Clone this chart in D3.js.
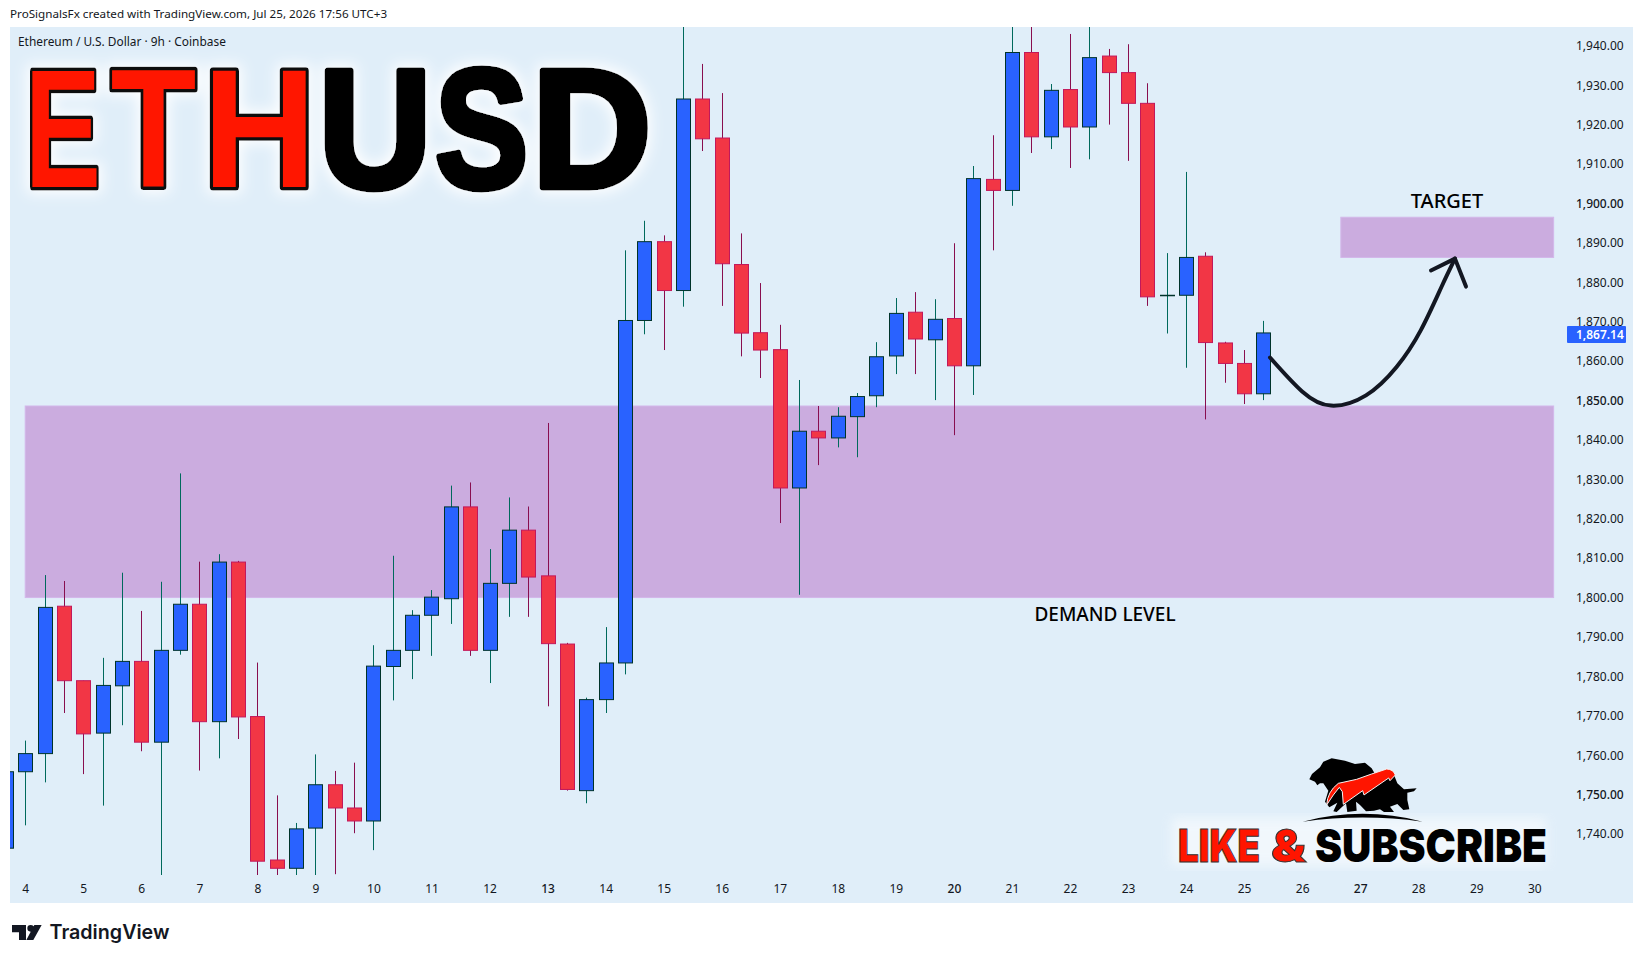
<!DOCTYPE html>
<meta charset="utf-8">
<style>
html, body { margin: 0; background: #fff; }
text { font-family: "Noto Sans", sans-serif; }
.axis text { font-size: 12px; fill: #131722; }
.axis .domain, .axis line { display: none; }
</style>
<svg width="1643" height="963"></svg>
<script src="https://d3js.org/d3.v7.min.js"></script>
<script>

// candles, one per 9h bar, starting on day 4 (3 bars a day)
var opens = [1755.8,1760.4,1797.8,1778.9,1765.6,1777.6,1783.8,1763.3,1786.6,1798.3,1768.5,1809,1769.8,1733.4,1731.3,1741.5,1752.5,1746.6,1743.3,1782.5,1786.6,1795.5,1799.7,1823,1786.6,1803.6,1817.1,1805.5,1788.2,1751,1774.1,1783.4,1870.3,1890.3,1877.9,1926.5,1916.6,1884.5,1867.2,1862.9,1827.8,1842.2,1840.5,1845.9,1851.2,1861.3,1872.4,1865.4,1870.8,1858.8,1906.1,1903.3,1938.3,1916.9,1928.9,1919.4,1937.4,1933.2,1925.4,1876.7,1876.7,1886.6,1864.6,1859.4,1851.7];
var highs = [1763.7,1805.7,1804.2,1778.9,1784.7,1806.3,1796.6,1804,1831.5,1809.1,1811,1809.3,1783.5,1749.8,1742.8,1760.2,1756,1758.1,1787.9,1810.6,1796.8,1801.9,1828.4,1829.2,1812.3,1825.4,1823.1,1844.3,1788.5,1774.6,1792.5,1888.1,1895.6,1891.9,1950,1935.4,1928,1892.4,1879.8,1869.2,1855.2,1848.6,1848.3,1851.9,1864.8,1876,1877.5,1875.7,1889.9,1909.5,1917.3,1950,1950,1930.3,1943,1950,1939.2,1940.4,1930.5,1887.4,1908,1887.6,1864.9,1862.8,1870.2];
var lows = [1742.2,1753.1,1770.7,1755.2,1747.2,1767.6,1761,1725,1785.5,1756.1,1759.2,1764.1,1725,1725,1725,1725,1729.8,1740.2,1735.9,1773.9,1779.3,1785.2,1793.3,1785.2,1778.3,1795.1,1795.1,1772.4,1751,1747.8,1770.7,1780.5,1866.8,1862.8,1873.8,1913.3,1874,1861.2,1855.7,1818.9,1800.7,1833.6,1838.1,1835.6,1848.3,1856.7,1856.7,1850.1,1841.2,1851.4,1888.1,1899.4,1912.8,1913.8,1909,1911.2,1920,1910.8,1874,1867,1858.3,1845.2,1854.5,1849.1,1850.1];
var closes = [1760.4,1797.5,1778.9,1765.4,1777.7,1783.8,1763.3,1786.6,1798.3,1768.5,1809,1769.7,1733.1,1731.3,1741.3,1752.5,1746.6,1743.3,1782.6,1786.6,1795.5,1800.1,1823,1786.6,1803.6,1817.1,1805.2,1788.3,1751.3,1774.1,1783.4,1870.3,1890.3,1877.9,1926.5,1916.4,1884.7,1867.1,1862.8,1827.8,1842.2,1840.5,1846,1851,1861.1,1872.1,1865.6,1870.6,1858.8,1906.3,1903.3,1938.3,1916.9,1928.7,1919.4,1937,1933.2,1925.4,1876.3,1876.7,1886.3,1864.7,1859.4,1851.7,1867.14];
// the cut-off candle at the left edge of the pane
var partialCandle = { open: 1736.4, high: 1736.4, low: 1736.4, close: 1755.8 };

var priceTicks = [1940,1930,1920,1910,1900,1890,1880,1870,1860,1850,1840,1830,1820,1810,1800,1790,1780,1770,1760,1750,1740];
var boldPrices = [1900,1850,1750];
var dayTicks = [4,5,6,7,8,9,10,11,12,13,14,15,16,17,18,19,20,21,22,23,24,25,26,27,28,29,30];
var boldDays = [13,20,27];
var lastPrice = 1867.14;

// zones in bar index / price
var demandZone = [0, 79, 1800, 1848.6];
var targetZone = [68, 79, 1886.3, 1896.5];

// hand drawn arrow, bar index / price
var arrowIdx = [64.34,66,67.5,69.3,70.88,72.13,73.2,73.9];
var arrowPrice = [1860.9,1852.3,1848.7,1851.3,1858.5,1867.8,1878.8,1886];
var headIdx = [72.66,73.9,74.47];
var headPrice = [1883,1886,1878.9];

// title letters, squeezed one by one
var titleLetters = ["E","T","H","U","S","D"];
var titleX = [24.7,110.5,202.6,318.5,434.9,531.9];
var titleLen = [76.2,85.9,113.8,113,93.1,119.3];

var svg = d3.select("svg");

var x = d3.scaleLinear().domain([0, 78]).range([25.2, 1534.3]);
var y = d3.scaleLinear().domain([1940, 1740]).range([45.8, 834]);

var defs = svg.append("defs");
defs.append("clipPath").attr("id", "pane").append("rect")
    .attr("x", 10).attr("y", 27).attr("width", 1623).attr("height", 848);
var glow = defs.append("filter").attr("id", "glow")
    .attr("x", "-15%").attr("y", "-25%").attr("width", "130%").attr("height", "150%");
glow.append("feMorphology").attr("in", "SourceAlpha").attr("operator", "dilate").attr("radius", 3).attr("result", "fat");
glow.append("feGaussianBlur").attr("in", "fat").attr("stdDeviation", 7).attr("result", "blur");
glow.append("feFlood").attr("flood-color", "#fff").attr("flood-opacity", 0.95);
glow.append("feComposite").attr("in2", "blur").attr("operator", "in").attr("result", "halo");
var merge = glow.append("feMerge");
merge.append("feMergeNode").attr("in", "halo");
merge.append("feMergeNode").attr("in", "SourceGraphic");
defs.append("filter").attr("id", "soft").append("feGaussianBlur").attr("stdDeviation", 6);

// background
svg.append("rect").attr("x", 10).attr("y", 27).attr("width", 1623).attr("height", 876).attr("fill", "#e0eef9");

svg.append("text").attr("x", 10).attr("y", 18).attr("font-size", 11.67).attr("fill", "#131722")
    .text("ProSignalsFx created with TradingView.com, Jul 25, 2026 17:56 UTC+3");
svg.append("text").attr("x", 18).attr("y", 46).attr("font-size", 11.9).attr("fill", "#131722")
    .text("Ethereum / U.S. Dollar · 9h · Coinbase");

// zones
svg.append("g").selectAll("rect").data([demandZone, targetZone]).enter().append("rect")
    .attr("x", function(d) { return x(d[0]); })
    .attr("y", function(d) { return y(d[3]); })
    .attr("width", function(d) { return x(d[1]) - x(d[0]); })
    .attr("height", function(d) { return y(d[2]) - y(d[3]); })
    .attr("fill", "#cbacdf")
    .attr("stroke", "#d3b7ea");

// candles
var candles = opens.map(function(o, i) {
  return { i: i, open: o, high: highs[i], low: lows[i], close: closes[i] };
});
partialCandle.i = -1;
candles.unshift(partialCandle);

var bw = 14;
var plot = svg.append("g").attr("clip-path", "url(#pane)");
var bars = plot.selectAll("g").data(candles).enter().append("g");
bars.append("line")
    .attr("x1", function(d) { return Math.round(x(d.i)) + 0.5; })
    .attr("x2", function(d) { return Math.round(x(d.i)) + 0.5; })
    .attr("y1", function(d) { return y(d.high); })
    .attr("y2", function(d) { return y(d.low); })
    .attr("stroke", function(d) { return d.close >= d.open ? "#00695c" : "#880e4f"; });
bars.append("rect")
    .attr("x", function(d) { return Math.round(x(d.i)) - bw / 2 + 0.5; })
    .attr("y", function(d) { return y(Math.max(d.open, d.close)); })
    .attr("width", bw)
    .attr("height", function(d) { return Math.max(0.5, Math.abs(y(d.open) - y(d.close))); })
    .attr("fill", function(d) { return d.close >= d.open ? "#2962ff" : "#f23645"; })
    .attr("stroke", function(d) { return d.close >= d.open ? "#00332a" : "#c2185b"; });

// axes
svg.append("g").attr("class", "axis")
    .attr("transform", "translate(1566,0)")
    .call(d3.axisRight(y).tickValues(priceTicks).tickSize(0).tickPadding(10).tickFormat(d3.format(",.2f")))
  .selectAll(".tick text")
    .attr("font-weight", function(d) { return boldPrices.indexOf(d) >= 0 ? 500 : 400; });
svg.append("g").attr("class", "axis")
    .attr("transform", "translate(0,875)")
    .call(d3.axisBottom(x).tickValues(dayTicks.map(function(d) { return (d - 4) * 3; })).tickSize(0).tickPadding(9)
      .tickFormat(function(v) { return v / 3 + 4; }))
  .selectAll(".tick text")
    .attr("font-weight", function(d) { return boldDays.indexOf(d / 3 + 4) >= 0 ? 500 : 400; });

// last price tag
svg.append("rect").attr("x", 1567).attr("y", y(lastPrice) - 7).attr("width", 59).attr("height", 17)
    .attr("rx", 1).attr("fill", "#2962ff");
svg.append("text").attr("x", 1576).attr("y", y(lastPrice) + 6).attr("font-size", 12).attr("fill", "#fff").attr("font-weight", 600)
    .text(d3.format(",.2f")(lastPrice));

// arrow
var line = d3.line().x(function(d) { return x(d[0]); }).y(function(d) { return y(d[1]); });
var arrow = svg.append("g").attr("fill", "none").attr("stroke", "#131722").attr("stroke-width", 4).attr("stroke-linecap", "round").attr("stroke-linejoin", "round");
arrow.append("path").attr("d", line.curve(d3.curveNatural)(d3.zip(arrowIdx, arrowPrice)));
arrow.append("path").attr("d", line.curve(d3.curveLinear)(d3.zip(headIdx, headPrice)));

// labels
svg.append("text").attr("x", 1447).attr("y", 208).attr("text-anchor", "middle")
    .attr("font-size", 20).attr("font-weight", 500).attr("fill", "#000").text("TARGET");
svg.append("text").attr("x", 1105).attr("y", 621).attr("text-anchor", "middle")
    .attr("font-size", 19).attr("font-weight", 500).attr("fill", "#000").text("DEMAND LEVEL");

// big title
var title = svg.append("g").attr("filter", "url(#glow)")
    .attr("font-weight", 700).attr("font-size", 168).attr("stroke-linejoin", "round").attr("stroke-width", 7).style("paint-order", "stroke");
title.selectAll("text").data(titleLetters).enter().append("text")
    .attr("x", function(d, i) { return titleX[i]; })
    .attr("y", 187)
    .attr("textLength", function(d, i) { return titleLen[i]; })
    .attr("lengthAdjust", "spacingAndGlyphs")
    .attr("fill", function(d, i) { return i < 3 ? "#ff1500" : "#000"; })
    .attr("stroke", function(d, i) { return i < 3 ? "#111" : "#000"; })
    .style("font-family", "'Liberation Sans'")
    .text(function(d) { return d; });

// subscribe badge
var badge = svg.append("g");
badge.append("rect").attr("x", 1172).attr("y", 818).attr("width", 374).attr("height", 48).attr("fill", "#fff").attr("opacity", 0.55).attr("filter", "url(#soft)");

var logo = badge.append("g").attr("transform", "translate(1290,750) scale(0.3333)");
logo.append("path").attr("fill", "#000")
    .attr("d", "M38 215 Q218 168 398 215 Q218 190 38 215 Z");
logo.append("path").attr("fill", "#000")
    .attr("d", "M58 88 L66 72 L90 52 L100 35 L125 25 L165 32 L195 42 L225 38 L245 55 L255 72 L310 70 L322 100 L342 118 L380 115 L372 124 L352 128 L352 150 L358 178 L340 180 L322 162 L300 170 L312 186 L282 186 L270 178 L252 182 L228 184 L210 165 L198 155 L200 182 L172 186 L168 160 L140 186 L130 184 L142 158 L118 172 L105 155 L115 122 L100 100 L90 100 L82 106 L75 95 Z");
logo.append("path").attr("fill", "#ff1500").attr("stroke", "#f4f4f4").attr("stroke-width", 3)
    .attr("d", "M110 165 Q112 125 145 100 L200 88 L245 72 L290 57 Q310 58 316 75 L300 92 L296 84 L222 135 L218 122 L160 163 L157 125 L148 112 L130 135 Z");

var likeFont = "Inter, Roboto, sans-serif";
badge.append("text").attr("x", 1178).attr("y", 862).attr("font-size", 46).attr("font-weight", 900)
    .attr("textLength", 82).attr("lengthAdjust", "spacingAndGlyphs").attr("fill", "#ff1500").attr("stroke", "#333").style("font-family", likeFont).text("LIKE");
badge.append("text").attr("x", 1271).attr("y", 862).attr("font-size", 46).attr("font-weight", 900)
    .attr("textLength", 35).attr("lengthAdjust", "spacingAndGlyphs").attr("fill", "#ff1500").attr("stroke", "#333").style("font-family", likeFont).text("&");
badge.append("text").attr("x", 1315).attr("y", 862).attr("font-size", 46).attr("font-weight", 900)
    .attr("textLength", 232).attr("lengthAdjust", "spacingAndGlyphs").attr("fill", "#000").style("font-family", likeFont).text("SUBSCRIBE");

// footer mark
svg.append("path").attr("fill", "#131722").attr("transform", "translate(0,905) scale(0.3333)")
    .attr("d", "M36 60 H78 V105 H57 V82 H36 Z M82 70 a10 10 0 1 1 20 0 a10 10 0 1 1 -20 0 Z M103 60 H125 L100 105 H79 Z");
svg.append("text").attr("x", 49.5).attr("y", 939).attr("font-size", 20).attr("font-weight", 600).attr("textLength", 120).attr("lengthAdjust", "spacingAndGlyphs")
    .attr("fill", "#131722").style("font-family", "Inter, sans-serif").text("TradingView");

</script>
